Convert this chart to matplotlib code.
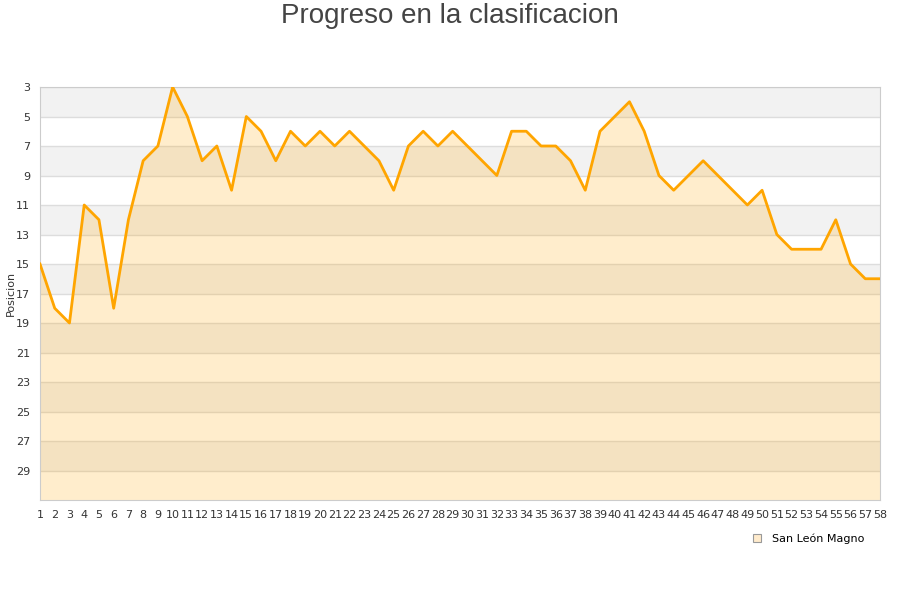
import numpy as np
import matplotlib.pyplot as plt

jornadas = list(range(1, 59))
posicion = [15, 18, 19, 11, 12, 18, 12, 8, 7, 3,
            5, 8, 7, 10, 5, 6, 8, 6, 7, 6,
            7, 6, 7, 8, 10, 7, 6, 7, 6, 7,
            8, 9, 6, 6, 7, 7, 8, 10, 6, 5,
            4, 6, 9, 10, 9, 8, 9, 10, 11, 10,
            13, 14, 14, 14, 12, 15, 16, 16]
equipo = "San León Magno"
y_ticks = list(range(3, 30, 2))

fig = plt.figure(figsize=(9, 6), dpi=100)
ax = fig.add_axes([40 / 900, 1 - 500 / 600, 840 / 900, 413 / 600])

# bandas alternas
for i, y0 in enumerate(range(3, 31, 2)):
    if i % 2 == 0:
        ax.axhspan(y0, y0 + 2, color='#f2f2f2', lw=0, zorder=0)
for y in y_ticks:
    ax.axhline(y, color='#dddddd', lw=1, zorder=1)

ax.fill_between(jornadas, posicion, 31, color='#FFA500', alpha=0.2, lw=0, zorder=2)
ax.plot(jornadas, posicion, color='#FFA500', lw=2.0, zorder=3, label=equipo)

ax.set_xlim(1, 58)
ax.set_ylim(31, 3)
ax.set_yticks(y_ticks)
ax.set_xticks(jornadas)
ax.tick_params(length=0, labelsize=8, colors='#333333', pad=7)
for s in ax.spines.values():
    s.set_color('#cccccc')
ax.set_ylabel('Posicion', fontsize=8, color='#333333')
ax.yaxis.set_label_coords(-24 / 840, 0.5)

fig.text(0.5, 1 - 16 / 600, 'Progreso en la clasificacion', fontsize=20,
         family='Liberation Sans', color='#444444', ha='center', va='center')

h = plt.Line2D([], [], marker='s', ls='none', markersize=6,
               markerfacecolor='#FFEBCC', markeredgecolor='#999999', markeredgewidth=0.8)
fig.legend([h], [equipo], loc='center', bbox_to_anchor=(805 / 900, 1 - 539 / 600),
           frameon=False, fontsize=8, handletextpad=0.3)

fig.savefig('out.png', dpi=100)
